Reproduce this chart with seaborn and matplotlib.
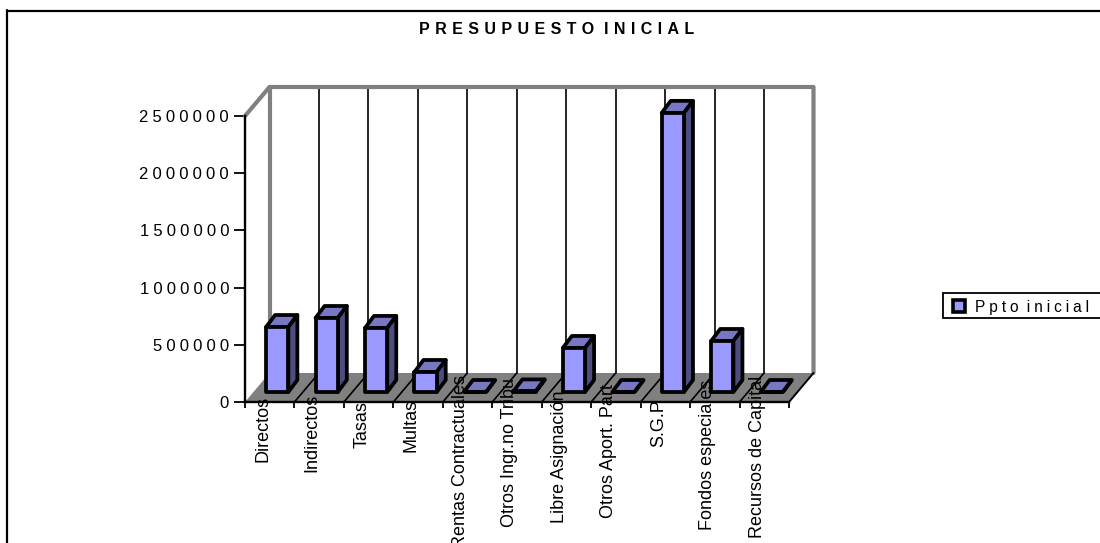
import matplotlib
matplotlib.use("Agg")
import matplotlib.pyplot as plt
import numpy as np
import seaborn as sns
from matplotlib.lines import Line2D
from matplotlib.patches import Rectangle
from matplotlib.transforms import blended_transform_factory

categories = [
    "Directos", "Indirectos", "Tasas", "Multas", "Rentas Contractuales",
    "Otros Ingr.no Tribu", "Libre Asignación", "Otros Aport. Part",
    "S.G.P", "Fondos especiales", "Recursos de Capital",
]
ppto_inicial = [568000, 647000, 560000, 175000, 0, 5000, 385000, 0, 2440000, 446000, 0]
y_ticks = [0, 500000, 1000000, 1500000, 2000000, 2500000]
title = "PRESUPUESTO INICIAL"
series_name = "Ppto inicial"

# pixel layout of the fake 3d box
W, H = 1100, 543
PX_L, PX_R, PX_B, PX_T = 245, 789, 402, 116
x_px = (PX_R - PX_L) / len(categories)
y_px = y_ticks[-1] / (PX_B - PX_T)
WALL_DX, WALL_DY = 24.5 / x_px, 29 * y_px
BAR_SHIFT, BAR_LIFT = 7.5 / x_px, 10 * y_px
BAR_DX, BAR_DY = 9 / x_px, 12 * y_px
LABEL_BOTTOMS = [462, 472, 448, 452, 548, 527, 523, 518, 447, 530, 538]

FRONT, TOP, SIDE = "#9999ff", "#7777c4", "#4d4d80"
GRAY = "#808080"
BAR_LW = 2.7


def spaced(text, gap="\u2004", word_gap="\u2004 "):
    # letter spacing by hand, matplotlib has no tracking option
    return word_gap.join(gap.join(word) for word in text.split(" "))


sns.set_style("white")
plt.rcParams["font.family"] = ["Liberation Sans", "DejaVu Sans"]

fig = plt.figure(figsize=(W / 100, H / 100), dpi=100)
ax = fig.add_axes([PX_L / W, 1 - PX_B / H, (PX_R - PX_L) / W, (PX_B - PX_T) / H])

sns.barplot(x=categories, y=ppto_inicial, color=FRONT, saturation=1, width=0.45,
            edgecolor="black", linewidth=BAR_LW, ax=ax, zorder=4)
bars = list(ax.containers[0])
ax.set_xlim(-0.5, len(categories) - 0.5)
ax.set_ylim(0, y_ticks[-1])

# floor and back wall
x0, x1 = -0.5, len(categories) - 0.5
ymax = y_ticks[-1]
ax.fill([x0, x1, x1 + WALL_DX, x0 + WALL_DX], [0, 0, WALL_DY, WALL_DY],
        color=GRAY, lw=0, zorder=1, clip_on=False)
for edge in np.arange(x0 + 1, x1):
    ax.plot([edge + WALL_DX] * 2, [WALL_DY, ymax + WALL_DY], color="black", lw=1.2,
            zorder=1.5, clip_on=False)
    ax.plot([edge, edge + WALL_DX], [0, WALL_DY], color="black", lw=1.2,
            zorder=1.5, clip_on=False)
ax.plot([x0, x0 + WALL_DX, x1 + WALL_DX, x1 + WALL_DX],
        [ymax, ymax + WALL_DY, ymax + WALL_DY, WALL_DY],
        color=GRAY, lw=3, zorder=2, clip_on=False, solid_joinstyle="round")
ax.plot([x0 + WALL_DX] * 2, [WALL_DY, ymax + WALL_DY], color=GRAY, lw=3, zorder=2, clip_on=False)
ax.plot([x1, x1 + WALL_DX], [0, WALL_DY], color="black", lw=1.4, zorder=2, clip_on=False)

# bars get lifted onto the floor, top and side faces follow the front one
for bar in bars:
    bar.set_x(bar.get_x() + BAR_SHIFT)
    bar.set_y(BAR_LIFT)
    bar.set_joinstyle("round")
    bar.set_clip_on(False)
    l, r = bar.get_x(), bar.get_x() + bar.get_width()
    b, t = bar.get_y(), bar.get_y() + bar.get_height()
    ax.fill([l, r, r + BAR_DX, l + BAR_DX], [t, t, t + BAR_DY, t + BAR_DY], facecolor=TOP,
            edgecolor="black", lw=BAR_LW, joinstyle="round", zorder=3.5, clip_on=False)
    ax.fill([r, r + BAR_DX, r + BAR_DX, r], [b, b + BAR_DY, t + BAR_DY, t], facecolor=SIDE,
            edgecolor="black", lw=BAR_LW, joinstyle="round", zorder=3.5, clip_on=False)

# axes
sns.despine(ax=ax, top=True, right=True)
for side in ("left", "bottom"):
    ax.spines[side].set_color("black")
    ax.spines[side].set_linewidth(1.7)
    ax.spines[side].set_zorder(3)
ax.set_xticks(np.arange(x0, x1 + 1), labels=[""] * (len(categories) + 1))
ax.set_yticks(y_ticks, labels=[spaced(str(v), gap="\u2005") for v in y_ticks])
ax.tick_params(axis="y", length=8, width=1.3, color="black", pad=3.5, labelsize=12, labelcolor="black", left=True)
ax.tick_params(axis="x", length=4.5, width=1.3, color="black", bottom=True)

label_trans = blended_transform_factory(ax.transData, fig.transFigure)
for i, name in enumerate(categories):
    ax.text(i - 7 / x_px, 1 - LABEL_BOTTOMS[i] / H, name, rotation=90, ha="center", va="bottom",
            fontsize=13, color="black", zorder=6, clip_on=False, transform=label_trans)

# chart frame, only top and left are inside the picture
fig.add_artist(Line2D([7 / W, 7 / W], [0, 1 - 10 / H], color="black", lw=1.6))
fig.add_artist(Line2D([7 / W, 1], [1 - 11 / H, 1 - 11 / H], color="black", lw=1.6))

fig.text(557 / W, 1 - 29 / H, spaced(title), ha="center", va="center",
         fontsize=11.5, fontweight="bold", color="black")

# legend box runs past the right edge of the picture, so it is drawn apart from the legend
fig.add_artist(Rectangle((943 / W, 1 - 318 / H), 200 / W, 25 / H, facecolor="white",
                         edgecolor="black", lw=1.3, transform=fig.transFigure))
handle = Line2D([], [], ls="", marker="s", markersize=8.5, markerfacecolor=FRONT,
                markeredgecolor="black", markeredgewidth=2.6)
leg = ax.legend([handle], [spaced(series_name, gap="\u2005", word_gap="\u2005 ")],
                loc="upper left", bbox_to_anchor=(943 / W, 1 - 295 / H), bbox_transform=fig.transFigure,
                borderaxespad=0, frameon=False, fontsize=11.2, labelcolor="black",
                handletextpad=0.25, handlelength=1.5, borderpad=0.3)
leg.set_zorder(10)
fig.add_artist(leg)

fig.savefig("out.png", dpi=100)
